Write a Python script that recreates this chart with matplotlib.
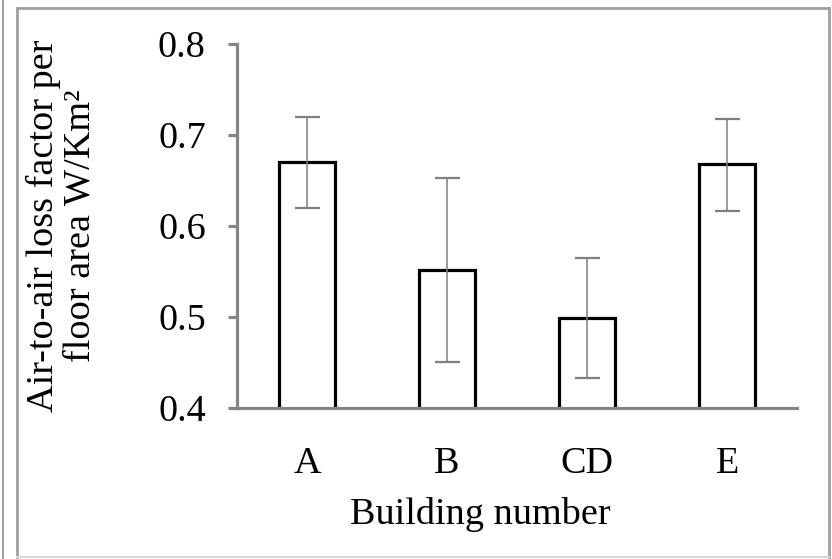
"""Bar chart of air-to-air loss factor per floor area by building."""
import matplotlib
matplotlib.use('Agg')
import matplotlib.pyplot as plt
from matplotlib.lines import Line2D

# Data
buildings = ['A', 'B', 'CD', 'E']
loss_factor = [0.671, 0.552, 0.499, 0.668]
err_low = [0.620, 0.451, 0.433, 0.617]
err_high = [0.720, 0.653, 0.565, 0.718]
y_ticks = [0.4, 0.5, 0.6, 0.7, 0.8]

plt.rcParams['font.family'] = ['Liberation Serif', 'DejaVu Serif']

fig = plt.figure(figsize=(8.32, 5.59), dpi=100)
ax = fig.add_axes([0.285, 0.270, 0.673, 0.651])

x = list(range(len(buildings)))
lower = [v - lo for v, lo in zip(loss_factor, err_low)]
upper = [hi - v for v, hi in zip(loss_factor, err_high)]

ax.bar(x, loss_factor, width=0.4, color='white', edgecolor='black',
       linewidth=2.3, zorder=2)
ax.errorbar(x, loss_factor, yerr=[lower, upper], fmt='none',
            ecolor='#7f7f7f', elinewidth=1.1, capsize=9, capthick=1.6,
            zorder=3)

ax.set_xlim(-0.5, 3.5)
ax.set_ylim(0.4, 0.8)
ax.set_yticks(y_ticks)
ax.set_yticklabels([f'{t:.1f}' for t in y_ticks])
ax.set_xticks(x)
ax.set_xticklabels(buildings)

for side in ('top', 'right'):
    ax.spines[side].set_visible(False)
for side in ('left', 'bottom'):
    ax.spines[side].set_color('#858585')
    ax.spines[side].set_linewidth(2.3)

ax.tick_params(axis='y', length=6.5, width=2.3, color='#858585',
               labelsize=27.5, pad=16)
ax.tick_params(axis='x', length=0, labelsize=27.5, pad=28)

ax.set_xlabel('Building number', fontsize=27.5)
ax.xaxis.set_label_coords(0.434, -0.245)
ax.set_ylabel('Air-to-air loss factor per\nfloor area W/Km\u00b2',
              fontsize=27.5, linespacing=1.05)
ax.yaxis.set_label_coords(-0.25, 0.5)

# Frame lines around the figure, as in the source document
frame = '#a0a0a0'
fig.add_artist(Line2D([17 / 832, 17 / 832], [0, 1 - 8 / 559], color=frame, lw=2,
                      transform=fig.transFigure))
fig.add_artist(Line2D([17 / 832, 829 / 832], [1 - 8 / 559, 1 - 8 / 559], color=frame,
                      lw=2, transform=fig.transFigure))
fig.add_artist(Line2D([829 / 832, 829 / 832], [0, 1 - 8 / 559], color=frame, lw=2,
                      transform=fig.transFigure))
fig.add_artist(Line2D([17 / 832, 829 / 832], [2 / 559, 2 / 559], color='#d8d8d8',
                      lw=1.5, transform=fig.transFigure))
fig.add_artist(Line2D([3 / 832, 3 / 832], [0, 1], color=frame, lw=1.5,
                      transform=fig.transFigure))

fig.savefig('out.png', dpi=100)
